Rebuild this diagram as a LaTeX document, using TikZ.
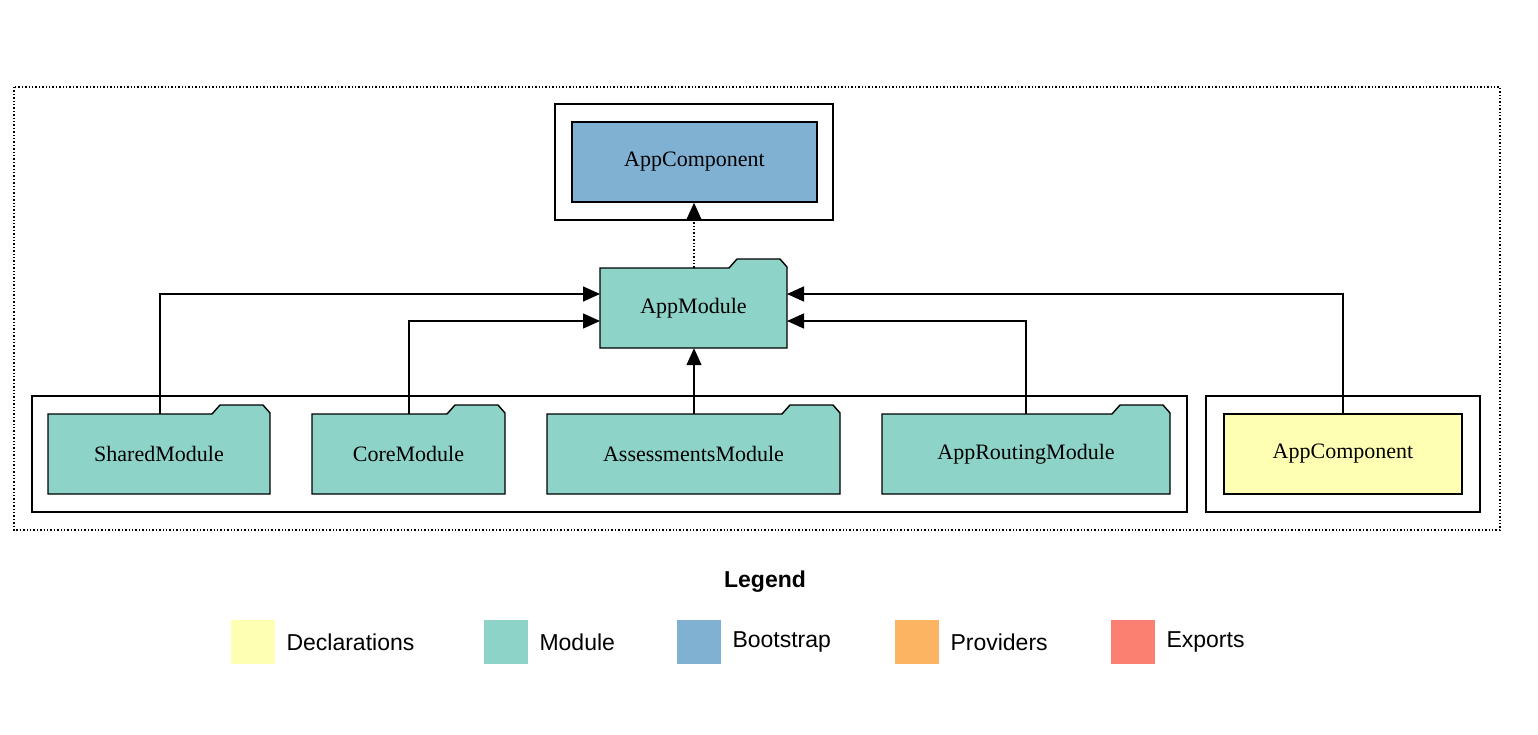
\documentclass[tikz,border=0pt]{standalone}
\usepackage{fontspec}
\setmainfont{Liberation Serif}
\newfontfamily\lsans{Liberation Sans}
\usetikzlibrary{arrows.meta}
\definecolor{cdecl}{HTML}{FFFFB3}
\definecolor{cmod}{HTML}{8DD3C7}
\definecolor{cboot}{HTML}{80B1D3}
\definecolor{cprov}{HTML}{FDB462}
\definecolor{cexp}{HTML}{FB8072}
\tikzset{
  box/.style={draw, line width=1.4pt, inner sep=0pt, font=\fontsize{22}{24}\selectfont},
  clus/.style={draw, line width=1.4pt},
  edge/.style={line width=1.4pt, -{Triangle[length=17pt,width=15pt]}},
  leg/.style={minimum size=44pt, inner sep=0pt},
  legt/.style={anchor=west, font=\lsans\fontsize{23}{26}\selectfont},
}
% folder: name, x1, y1(tab top), x2, y2, text
\newcommand{\myfolder}[6]{%
  \fill[cmod] (#2,#5) -- (#2,#3+9) -- (#4-58,#3+9) -- (#4-50,#3) -- (#4-7,#3) -- (#4,#3+8) -- (#4,#5) -- cycle;
  \draw[line width=1.4pt] (#2,#5) -- (#2,#3+9) -- (#4-58,#3+9) -- (#4-50,#3) -- (#4-7,#3) -- (#4,#3+8) -- (#4,#5) -- cycle;
  \node[inner sep=0pt, minimum width=#4-#2, minimum height=#5-#3-9, font=\fontsize{22}{24}\selectfont] (#1) at ({(#2+#4)/2},{(#3+9+#5)/2}) {#6};
}
\begin{document}
\begin{tikzpicture}[x=1pt,y=-1pt]
\useasboundingbox (0,0) rectangle (1538,735);
\draw[line width=1.4pt, dotted] (14,87) rectangle (1500,530);
\draw[clus] (555,104) rectangle (833,220);
\draw[clus] (32,396) rectangle (1187,512);
\draw[clus] (1206,396) rectangle (1480,512);
\node[box, fill=cboot, minimum width=245pt, minimum height=80pt] (boot) at (694.5,162) {AppComponent};
\node[box, fill=cdecl, minimum width=238pt, minimum height=80pt] (decl) at (1343,454) {AppComponent};
\myfolder{appmod}{600}{259}{787}{348}{AppModule}
\myfolder{shared}{48}{405}{270}{494}{SharedModule}
\myfolder{core}{312}{405}{505}{494}{CoreModule}
\myfolder{assess}{547}{405}{840}{494}{AssessmentsModule}
\myfolder{routing}{882}{405}{1170}{494}{AppRoutingModule}
\coordinate (a1) at (600,294);
\coordinate (a2) at (600,321);
\coordinate (b1) at (787,294);
\coordinate (b2) at (787,321);
\draw[edge] (shared.north -| 160,0) |- (a1);
\draw[edge] (core.north -| 409,0) |- (a2);
\draw[edge] (assess.north -| 694,0) -- (appmod.south -| 694,0);
\draw[edge] (routing.north -| 1026,0) |- (b2);
\draw[edge] (decl.north) |- (b1);
\draw[edge, dotted] (appmod.north -| 694,0) -- (boot.south -| 694,0);
\node[font=\lsans\bfseries\fontsize{23}{26}\selectfont] (legend) at (765,582) {Legend};
\node[leg, fill=cdecl] (l1) at (253,642) {};
\node[legt] (t1) at (283,642) {Declarations};
\node[leg, fill=cmod] (l2) at (506,642) {};
\node[legt] (t2) at (536,642) {Module};
\node[leg, fill=cboot] (l3) at (699,642) {};
\node[legt] (t3) at (729,642) {Bootstrap};
\node[leg, fill=cprov] (l4) at (917,642) {};
\node[legt] (t4) at (947,642) {Providers};
\node[leg, fill=cexp] (l5) at (1133,642) {};
\node[legt] (t5) at (1163,642) {Exports};
\end{tikzpicture}
\end{document}
